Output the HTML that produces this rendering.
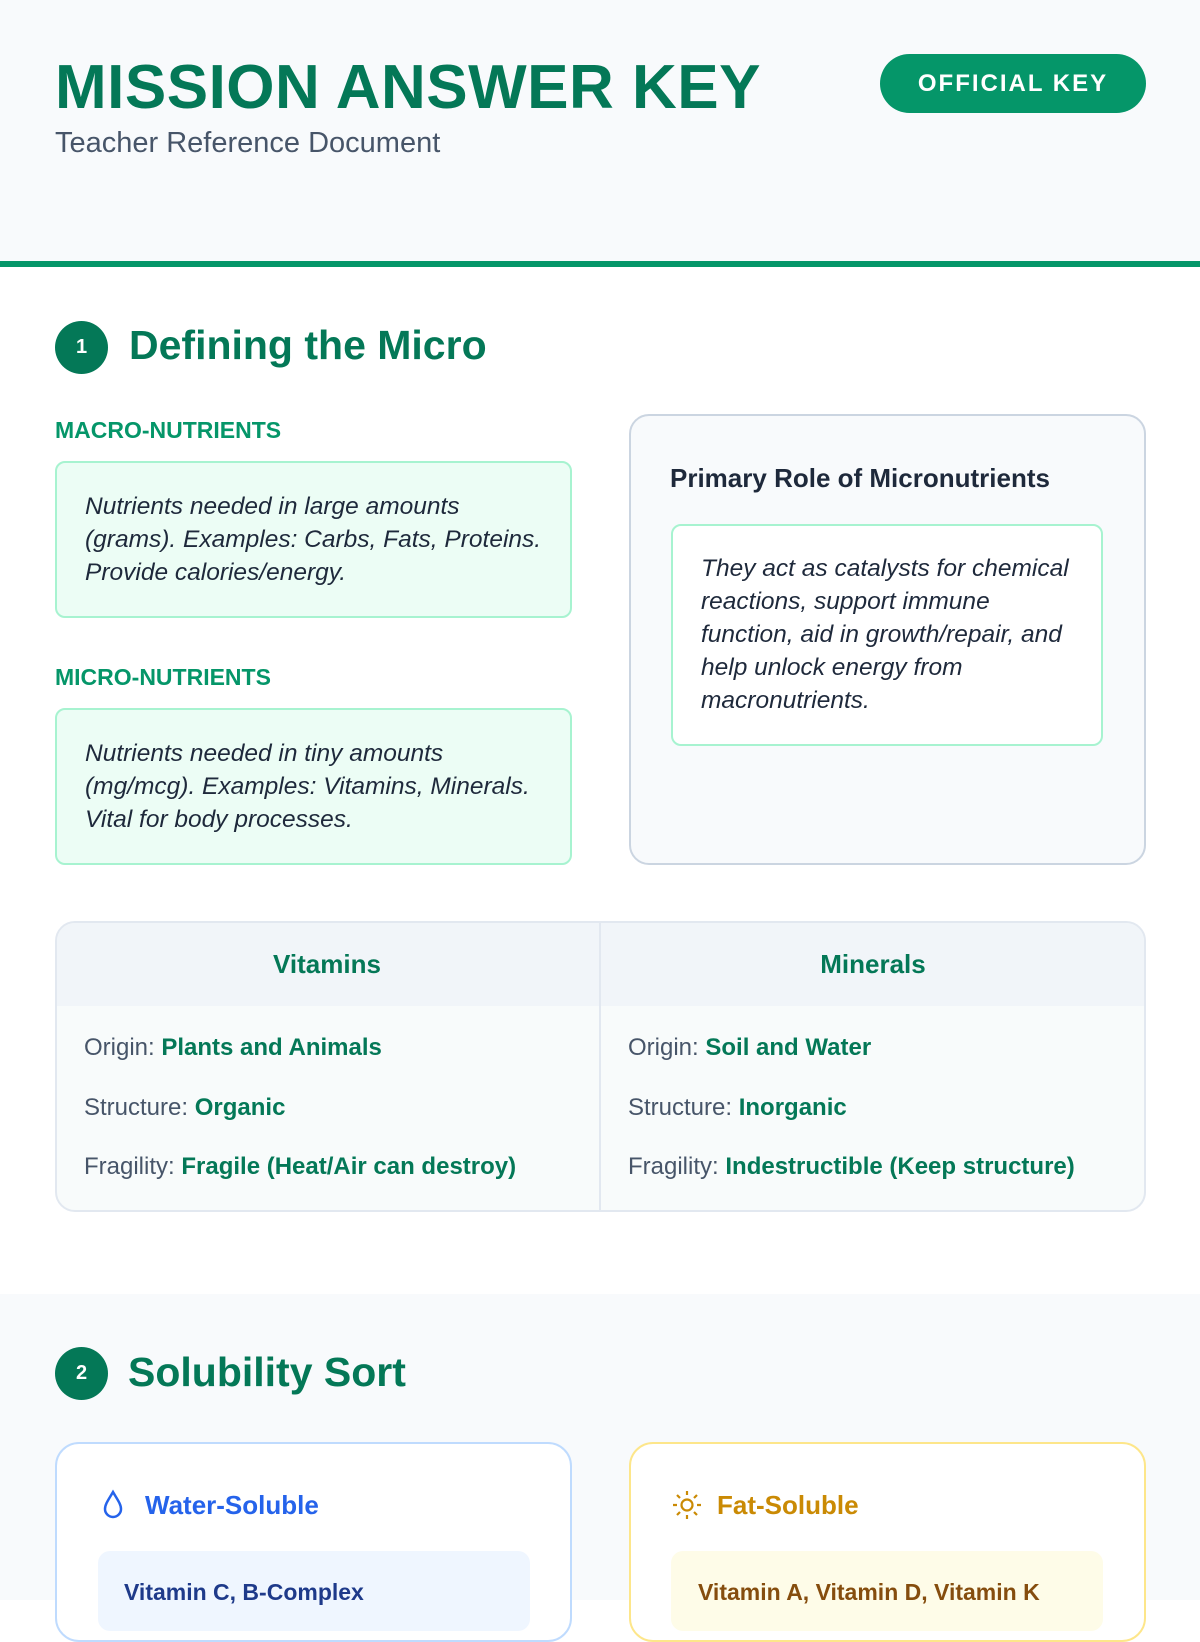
<!DOCTYPE html>
<html><head><meta charset="utf-8"><style>
*{margin:0;padding:0;box-sizing:border-box}
body{width:1200px;height:1600px;overflow:hidden;background:#fff;font-family:"Liberation Sans",sans-serif;position:relative}
.a{position:absolute}
.hdr{left:0;top:0;width:1200px;height:267px;background:#f8fafc;border-bottom:6px solid #059669}
.title{left:55px;top:52px;font-size:62px;font-weight:900;color:#047857;letter-spacing:0.5px;white-space:nowrap}
.sub{left:55px;top:127px;font-size:29px;color:#475569}
.badge{left:880px;top:54px;width:266px;height:59px;border-radius:30px;background:#059669;color:#fff;font-weight:bold;font-size:24px;letter-spacing:2px;display:flex;align-items:center;justify-content:center}
.circ{width:53px;height:53px;border-radius:50%;background:#047857;color:#fff;font-weight:bold;font-size:20px;display:flex;align-items:center;justify-content:center}
.h2{font-size:41px;font-weight:bold;color:#047857;white-space:nowrap}
.lbl{font-size:23px;font-weight:bold;color:#059669}
.gbox{background:#ecfdf5;border:2px solid #a7f3d0;border-radius:10px;padding:27px 18px 20px 28px;font-style:italic;font-size:24.5px;line-height:33px;color:#1e293b}
.th{font-size:26px;font-weight:bold;color:#047857;text-align:center}
.row{font-size:24px;color:#475569;white-space:nowrap}
.row b{color:#047857}
</style></head><body>
<div class="a hdr"></div>
<div class="a title">MISSION ANSWER KEY</div>
<div class="a sub">Teacher Reference Document</div>
<div class="a badge">OFFICIAL KEY</div>

<div class="a circ" style="left:55px;top:321px">1</div>
<div class="a h2" style="left:129px;top:322px">Defining the Micro</div>

<div class="a lbl" style="left:55px;top:417px">MACRO-NUTRIENTS</div>
<div class="a gbox" style="left:55px;top:461px;width:517px;height:157px">Nutrients needed in large amounts (grams). Examples: Carbs, Fats, Proteins. Provide calories/energy.</div>
<div class="a lbl" style="left:55px;top:664px">MICRO-NUTRIENTS</div>
<div class="a gbox" style="left:55px;top:708px;width:517px;height:157px">Nutrients needed in tiny amounts (mg/mcg). Examples: Vitamins, Minerals. Vital for body processes.</div>

<div class="a" style="left:629px;top:414px;width:517px;height:451px;background:#f8fafc;border:2px solid #cbd5e1;border-radius:20px"></div>
<div class="a" style="left:670px;top:463px;font-size:26px;font-weight:bold;color:#1e293b">Primary Role of Micronutrients</div>
<div class="a gbox" style="left:671px;top:524px;width:432px;height:222px;background:#fff;padding:26px 18px 20px 28px">They act as catalysts for chemical reactions, support immune function, aid in growth/repair, and help unlock energy from macronutrients.</div>

<div class="a" style="left:55px;top:921px;width:1091px;height:291px;border:2px solid #e2e8f0;border-radius:20px;overflow:hidden;background:#f8fbfb">
 <div style="position:absolute;left:0;top:0;width:100%;height:83px;background:#f1f5f9"></div>
 <div style="position:absolute;left:542px;top:0;width:2px;height:100%;background:#e2e8f0"></div>
</div>
<div class="a th" style="left:55px;top:949px;width:544px">Vitamins</div>
<div class="a th" style="left:600px;top:949px;width:546px">Minerals</div>
<div class="a row" style="left:84px;top:1034px">Origin: <b>Plants and Animals</b></div>
<div class="a row" style="left:84px;top:1094px">Structure: <b>Organic</b></div>
<div class="a row" style="left:84px;top:1153px">Fragility: <b>Fragile (Heat/Air can destroy)</b></div>
<div class="a row" style="left:628px;top:1034px">Origin: <b>Soil and Water</b></div>
<div class="a row" style="left:628px;top:1094px">Structure: <b>Inorganic</b></div>
<div class="a row" style="left:628px;top:1153px">Fragility: <b>Indestructible (Keep structure)</b></div>

<div class="a" style="left:0;top:1294px;width:1200px;height:306px;background:#f8fafc"></div>
<div class="a circ" style="left:55px;top:1347px">2</div>
<div class="a h2" style="left:128px;top:1349px">Solubility Sort</div>

<div class="a" style="left:55px;top:1442px;width:517px;height:200px;background:#fff;border:2px solid #bfdbfe;border-radius:24px"></div>
<svg class="a" style="left:101px;top:1489px" width="24" height="30" viewBox="0 0 24 30"><path d="M12 3 C8 10 4 15 4 20 a8 8 0 0 0 16 0 C20 15 16 10 12 3Z" fill="none" stroke="#2563eb" stroke-width="2.5"/></svg>
<div class="a" style="left:145px;top:1490px;font-size:26px;font-weight:bold;color:#2563eb">Water-Soluble</div>
<div class="a" style="left:98px;top:1551px;width:432px;height:80px;background:#eff6ff;border-radius:12px"></div>
<div class="a" style="left:124px;top:1579px;font-size:23px;font-weight:bold;color:#1e3a8a">Vitamin C, B-Complex</div>

<div class="a" style="left:629px;top:1442px;width:517px;height:200px;background:#fff;border:2px solid #fde68a;border-radius:24px"></div>
<svg class="a" style="left:671px;top:1489px" width="32" height="32" viewBox="0 0 32 32" stroke="#ca8a04" stroke-width="2.2" fill="none"><circle cx="16" cy="16" r="5.5"/><path d="M16 2v4M16 26v4M2 16h4M26 16h4M6 6l3 3M23 23l3 3M6 26l3-3M23 9l3-3"/></svg>
<div class="a" style="left:717px;top:1490px;font-size:26px;font-weight:bold;color:#ca8a04">Fat-Soluble</div>
<div class="a" style="left:671px;top:1551px;width:432px;height:80px;background:#fefce8;border-radius:12px"></div>
<div class="a" style="left:698px;top:1579px;font-size:23px;font-weight:bold;color:#854d0e">Vitamin A, Vitamin D, Vitamin K</div>
</body></html>
